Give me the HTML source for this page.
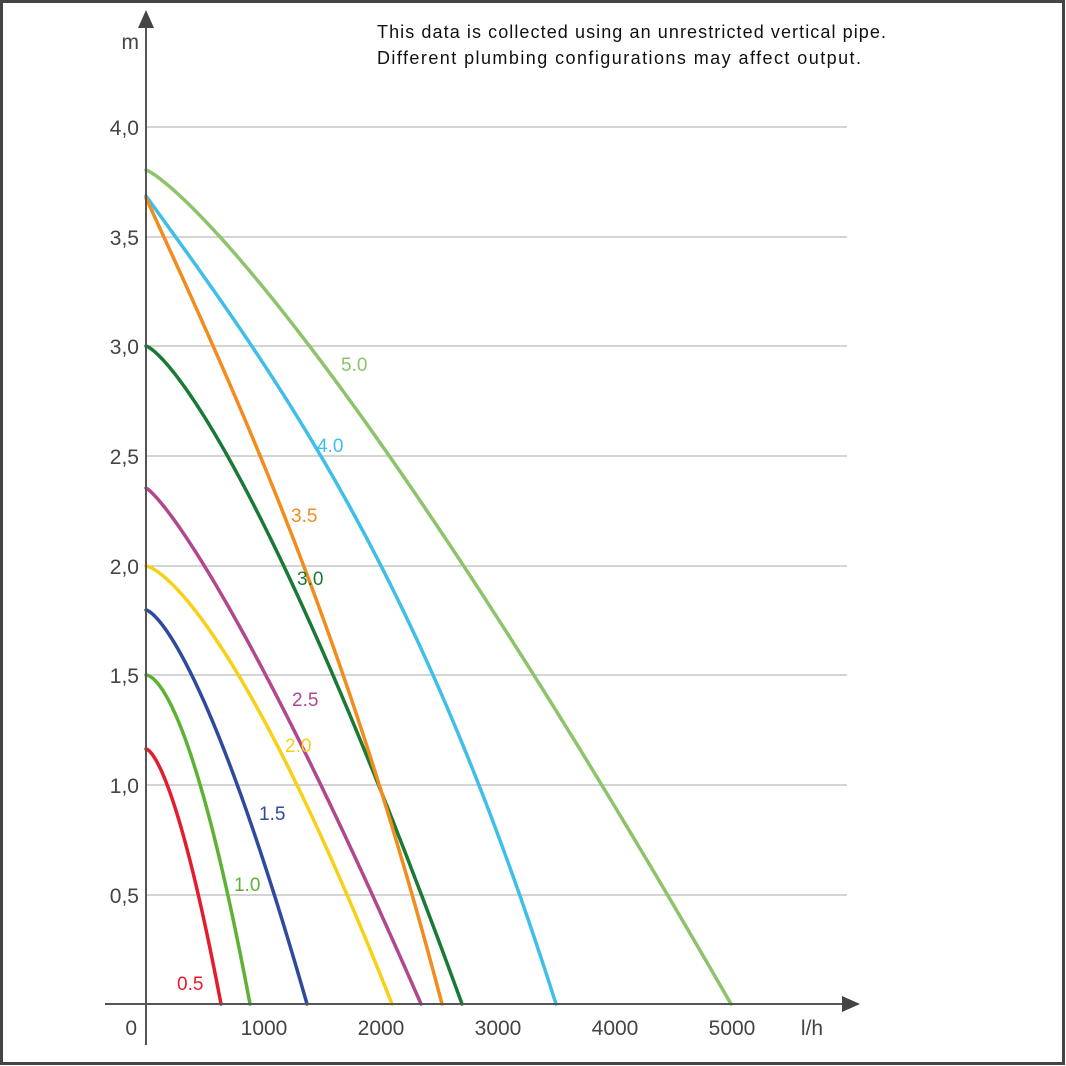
<!DOCTYPE html>
<html><head><meta charset="utf-8"><style>body{margin:0;background:#fff}svg{display:block}</style></head><body>
<svg id="s" width="1066" height="1066" xmlns="http://www.w3.org/2000/svg" font-family="'Liberation Sans',sans-serif">
<rect x="1.5" y="1.5" width="1062" height="1062" fill="#fff" stroke="#444" stroke-width="3"/>
<g stroke="#bbb" stroke-width="1.2">
<line x1="146" x2="847" y1="127" y2="127"/><line x1="146" x2="847" y1="237" y2="237"/>
<line x1="146" x2="847" y1="346" y2="346"/><line x1="146" x2="847" y1="456" y2="456"/>
<line x1="146" x2="847" y1="566" y2="566"/><line x1="146" x2="847" y1="675" y2="675"/>
<line x1="146" x2="847" y1="785" y2="785"/><line x1="146" x2="847" y1="895" y2="895"/>
</g>
<g fill="#444" font-size="21" text-anchor="end">
<text x="139" y="135">4,0</text><text x="139" y="245">3,5</text><text x="139" y="354">3,0</text>
<text x="139" y="464">2,5</text><text x="139" y="574">2,0</text><text x="139" y="683">1,5</text>
<text x="139" y="793">1,0</text><text x="139" y="903">0,5</text><text x="137" y="1035">0</text>
<text x="139" y="49">m</text>
</g>
<g fill="#444" font-size="21" text-anchor="middle">
<text x="264" y="1035">1000</text><text x="381" y="1035">2000</text><text x="498" y="1035">3000</text>
<text x="615" y="1035">4000</text><text x="732" y="1035">5000</text><text x="812" y="1035">l/h</text>
</g>
<text x="377" y="38" font-size="18" fill="#111" textLength="509">This data is collected using an unrestricted vertical pipe.</text>
<text x="377" y="64" font-size="18" fill="#111" textLength="484">Different plumbing configurations may affect output.</text>
<g id="curves" fill="none" stroke-width="3.5" stroke-linecap="round"></g>
<line x1="105" y1="1004" x2="850" y2="1004" stroke="#555" stroke-width="2"/>
<polygon points="860,1004 842,996 842,1012" fill="#444"/>
<line x1="146" y1="20" x2="146" y2="1045" stroke="#555" stroke-width="2"/>
<polygon points="146,10 138,28 154,28" fill="#444"/>
<g font-size="19">
<text x="177" y="990" fill="#e31d2b">0.5</text>
<text x="234" y="891" fill="#5db233">1.0</text>
<text x="259" y="820" fill="#2e4a9e">1.5</text>
<text x="285" y="752" fill="#f7d117">2.0</text>
<text x="292" y="706" fill="#b0478f">2.5</text>
<text x="297" y="585" fill="#1a7a35">3.0</text>
<text x="291" y="522" fill="#f28c1e">3.5</text>
<text x="317" y="452" fill="#3fbfe8">4.0</text>
<text x="341" y="371" fill="#8dc36a">5.0</text>
</g>
</svg>
<script>
var C=[
["#8dc36a",170,731,1.22,0],
["#3fbfe8",196,556,3,0.7],
["#1a7a35",346,462,1.32,0],
["#f28c1e",198,442,3,0.8],
["#b0478f",488,421,1.22,0],
["#f7d117",566,392,1.42,0],
["#2e4a9e",610,307,1.43,0],
["#5db233",675,250,1.68,0],
["#e31d2b",749,221,1.55,0]];
var g=document.getElementById("curves"),ns="http://www.w3.org/2000/svg";
C.forEach(function(c){var y0=c[1],xe=c[2],p=c[3],a=c[4],H=1004-y0,d="";
for(var i=0;i<=200;i++){var f=i/200,x=146+(xe-146)*f,y=1004-H*(1-a*f-(1-a)*Math.pow(f,p));
d+=(i?"L":"M")+x.toFixed(2)+" "+y.toFixed(2);}
var e=document.createElementNS(ns,"path");e.setAttribute("d",d);e.setAttribute("stroke",c[0]);g.appendChild(e);});
</script>
</body></html>
